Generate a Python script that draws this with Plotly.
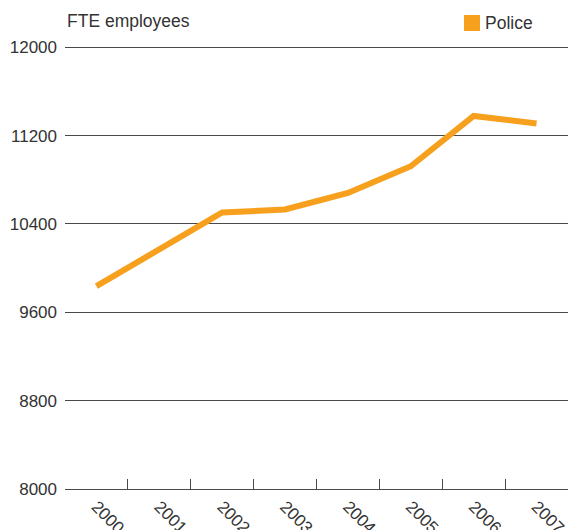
import plotly.graph_objects as go

# Police full-time-equivalent staff, 2000-2007
years = ["2000", "2001", "2002", "2003", "2004", "2005", "2006", "2007"]
fte_police = [9837, 10170, 10504, 10531, 10681, 10923, 11378, 11310]
y_ticks = [8000, 8800, 9600, 10400, 11200, 12000]

ORANGE = "#F6A01E"
INK = "#333333"
RULE = "#4a4a4a"
FONT = "Liberation Sans, Arial, sans-serif"

# small headroom above the top value so its gridline is drawn inside the plot area
Y_MIN, Y_MAX = 8000, 12030
TOP, BOTTOM = 44, 41
plot_h = 530 - TOP - BOTTOM


def py(pixel_y):
    """Paper y coordinate for a pixel row measured from the top of the page."""
    return (530 - BOTTOM - pixel_y) / plot_h


fig = go.Figure()
fig.add_trace(go.Scatter(
    x=years, y=fte_police, mode="lines", name="Police",
    line=dict(color=ORANGE, width=6), showlegend=False,
))

fig.update_layout(
    width=569, height=530,
    margin=dict(l=65, r=1, t=TOP, b=BOTTOM),
    paper_bgcolor="white", plot_bgcolor="white",
    font=dict(family=FONT, size=17, color=INK),
    xaxis=dict(
        type="category", range=[-0.5, len(years) - 0.5], automargin=False,
        tickson="boundaries", ticks="inside", ticklen=10,
        tickcolor=RULE, tickwidth=1, showline=True, linecolor=RULE, linewidth=1,
        showgrid=False, tickangle=45, zeroline=False,
        tickfont=dict(size=17, color=INK),
    ),
    yaxis=dict(
        range=[Y_MIN, Y_MAX], automargin=False,
        tickvals=y_ticks, ticktext=[str(v) for v in y_ticks],
        ticks="inside", ticklen=13,
        tickcolor=RULE, showgrid=True, gridcolor=RULE, gridwidth=1,
        showline=False, zeroline=False, ticklabelstandoff=7,
        tickfont=dict(size=17, color=INK),
    ),
    shapes=[dict(
        type="rect", xref="paper", yref="paper",
        x0=(464 - 65) / 503, x1=(480 - 65) / 503,
        y0=py(31), y1=py(15),
        fillcolor=ORANGE, line=dict(width=0),
    )],
    annotations=[
        dict(text="FTE employees", xref="paper", yref="paper", x=0, y=py(21),
             xanchor="left", yanchor="middle", showarrow=False,
             font=dict(size=17.5, color=INK)),
        dict(text="Police", xref="paper", yref="paper", x=(483 - 65) / 503,
             y=py(23), xanchor="left", yanchor="middle", showarrow=False,
             font=dict(size=17.5, color=INK)),
    ],
)

fig.write_html("out.html")
